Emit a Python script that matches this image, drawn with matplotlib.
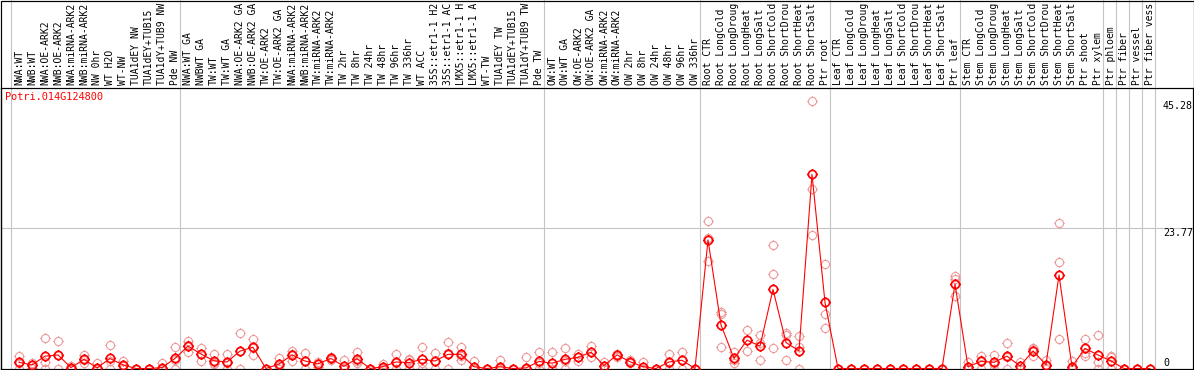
import matplotlib
matplotlib.use("Agg")
import matplotlib.pyplot as plt
import numpy as np
from matplotlib.path import Path
from matplotlib.patches import Rectangle

# ---------------- data ----------------
gene = "Potri.014G124800"

# sample labels as displayed (the chart shows at most 14 characters)
labels = [
    # NW group
    "NWA:WT", "NWB:WT", "NWA:OE-ARK2", "NWB:OE-ARK2", "NWA:miRNA-ARK2", "NWB:miRNA-ARK2",
    "NW 0hr", "WT H2O", "WT-NW", "TUA1dEY NW", "TUA1dEY+TUB15", "TUA1dY+TUB9 NW", "Pde NW",
    # TW group
    "NWA:WT GA", "NWBWT GA", "TW:WT", "TW:WT GA", "NWA:OE-ARK2 GA", "NWB:OE-ARK2 GA",
    "TW:OE-ARK2", "TW:OE-ARK2 GA", "NWA:miRNA-ARK2", "NWB:miRNA-ARK2", "TW:miRNA-ARK2",
    "TW:miRNA-ARK2", "TW 2hr", "TW 8hr", "TW 24hr", "TW 48hr", "TW 96hr", "TW 336hr",
    "WT ACC", "35S::etr1-1 H2", "35S::etr1-1 AC", "LMX5::etr1-1 H", "LMX5::etr1-1 A",
    "WT-TW", "TUA1dEY TW", "TUA1dEY+TUB15", "TUA1dY+TUB9 TW", "Pde TW",
    # OW group
    "OW:WT", "OW:WT GA", "OW:OE-ARK2", "OW:OE-ARK2 GA", "OW:miRNA-ARK2", "OW:miRNA-ARK2",
    "OW 2hr", "OW 8hr", "OW 24hr", "OW 48hr", "OW 96hr", "OW 336hr",
    # Root
    "Root CTR", "Root LongCold", "Root LongDroug", "Root LongHeat", "Root LongSalt",
    "Root ShortCold", "Root ShortDrou", "Root ShortHeat", "Root ShortSalt", "Ptr root",
    # Leaf
    "Leaf CTR", "Leaf LongCold", "Leaf LongDroug", "Leaf LongHeat", "Leaf LongSalt",
    "Leaf ShortCold", "Leaf ShortDrou", "Leaf ShortHeat", "Leaf ShortSalt", "Ptr leaf",
    # Stem
    "Stem CTR", "Stem LongCold", "Stem LongDroug", "Stem LongHeat", "Stem LongSalt",
    "Stem ShortCold", "Stem ShortDrou", "Stem ShortHeat", "Stem ShortSalt", "Ptr shoot",
    "Ptr xylem",
    "Ptr phloem", "Ptr fiber", "Ptr vessel", "Ptr fiber vess",
]

# last sample index of each group (group separators)
group_ends = [-1, 12, 40, 52, 62, 72, 83, 84, 85, 86, 87]

means = [
    1.05, 0.6, 2.1, 2.3, 0.15, 1.55, 0.1, 1.7, 0.6, 0, 0, 0.15, 1.7,
    3.8, 2.45, 1.3, 1.1, 2.95, 3.6, 0, 0.75, 2.3, 1.27, 0.8, 1.7, 0.37, 1.67, 0, 0.3,
    1.1, 1.0, 1.55, 1.27, 2.4, 2.4, 0.3, 0, 0.3, 0, 0.1, 1.2,
    0.9, 1.55, 1.9, 2.75, 0.5, 2.3, 1.15, 0.3, 0, 1.1, 1.4, 0,
    21.8, 7.4, 1.7, 4.8, 3.8, 13.4, 4.4, 3.0, 32.9, 11.2,
    0, 0, 0, 0, 0, 0, 0, 0, 0, 14.3,
    0.3, 1.2, 1.05, 2.1, 0.42, 2.97, 0.65, 15.85, 0.3, 3.4, 2.3,
    1.27, 0, 0, 0,
]

rep_a = [
    2.1, 1.0, 5.2, 4.6, 0.5, 2.3, 0.9, 4.0, 1.3, 0, 0, 0.9, 3.6,
    4.6, 3.5, 2.4, 2.45, 6.0, 4.95, 0, 1.8, 3.0, 2.6, 1.1, 2.0, 1.45, 2.85, 0, 0.8,
    2.45, 1.6, 3.65, 2.6, 4.5, 3.65, 1.2, 0, 1.45, 0, 1.9, 2.75,
    2.75, 3.5, 2.4, 3.8, 1.1, 2.45, 1.45, 1.05, 0, 2.45, 2.75, 0,
    25.0, 9.6, 2.8, 6.6, 5.7, 20.9, 6.1, 5.5, 45.28, 17.7,
    0, 0, 0, 0, 0, 0, 0, 0, 0, 15.6,
    1.15, 2.1, 2.35, 4.3, 1.1, 3.4, 1.45, 24.6, 1.27, 4.95, 5.7,
    2.2, 0, 0, 0,
]

rep_b = [
    1.0, 0.6, 1.05, 2.3, 0, 1.5, 0, 1.2, 0.5, 0, 0, 0, 1.5,
    4.0, 2.5, 0.9, 0.9, 2.9, 3.5, 0, 0.5, 2.5, 1.2, 0.8, 1.6, 0, 1.3, 0, 0.1,
    0.85, 1.45, 1.0, 1.2, 2.7, 2.1, 0, 0, 0, 0, 0, 1.0,
    0, 1.2, 1.9, 2.75, 0.4, 2.3, 1.1, 0, 0, 0.9, 1.4, 0,
    22.2, 9.2, 1.5, 4.8, 4.4, 16.0, 5.6, 3.7, 30.4, 9.2,
    0, 0, 0, 0, 0, 0, 0, 0, 0, 15.2,
    0, 1.5, 0.8, 2.0, 0, 3.36, 0.5, 18.05, 0, 2.7, 1.05,
    1.9, 0, 0, 0,
]

rep_c = [
    0, 0.1, 0, 0, 0, 0.9, 0, 0, 0, 0, 0, 0, 0,
    2.85, 1.3, 0.7, 0, 0, 2.3, 0, 0, 1.3, 0, 0.3, 1.5, 0, 0.9, 0, 0,
    0, 0, 0, 0, 0, 1.45, 0, 0, 0, 0, 0, 0,
    0, 0, 1.3, 1.9, 0, 2.0, 0.9, 0, 0, 0, 0, 0,
    18.2, 3.65, 0.9, 2.9, 1.45, 3.4, 1.45, 0, 22.6, 6.9,
    0, 0, 0, 0, 0, 0, 0, 0, 0, 12.3,
    0, 0, 0, 0, 0, 2.1, 0, 4.95, 0, 2.2, 0,
    0, 0, 0, 0,
]

ytick_values = [0, 23.77, 45.28]

# ---------------- figure ----------------
W, H = 1194, 370
DPI = 100
fig = plt.figure(figsize=(W / DPI, H / DPI), dpi=DPI)
fig.patch.set_facecolor("white")

PX = 0.72  # 1 pixel in points
font = "DejaVu Sans Mono"
fs = 7.0

n = len(labels)
x = np.arange(n)

# axes geometry in pixels
ax_left, ax_right = 1, 1193
ax_top, ax_bot = 88, 369
xmin = (ax_left - 19) / 13.0
xmax = (ax_right - 19) / 13.0
ppu = 5.9
ymin = (368.5 - ax_bot) / ppu
ymax = (368.5 - ax_top) / ppu

ax = fig.add_axes([ax_left / W, 1 - ax_bot / H, (ax_right - ax_left) / W, (ax_bot - ax_top) / H])
ax.set_xlim(xmin, xmax)
ax.set_ylim(ymin, ymax)
ax.set_xticks([])
ax.set_yticks([])
for s in ax.spines.values():
    s.set_color("black")
    s.set_linewidth(1.2 * PX)

# label axes on top
lax = fig.add_axes([ax_left / W, 1 - ax_top / H, (ax_right - ax_left) / W, ax_top / H])
lax.set_xlim(xmin, xmax)
lax.set_ylim(0, ax_top)
lax.axis("off")

# marker: circle with four small outward ticks
circ = Path.unit_circle()
t = 1.3
ticks = Path([(0, 1), (0, t), (0, -1), (0, -t), (1, 0), (t, 0), (-1, 0), (-t, 0)],
             [Path.MOVETO, Path.LINETO] * 4)
mk = Path.make_compound_path(circ, ticks)
msize = 7.6

grid_c = "#c4c4c4"
for g in group_ends:
    xv = g + 0.38
    ax.axvline(xv, color=grid_c, lw=1.1 * PX, zorder=0)
    lax.axvline(xv, color=grid_c, lw=1.1 * PX, zorder=0)
ax.axhline(23.77, color=grid_c, lw=1.1 * PX, zorder=0)

rep_color = "#ee9a9a"
for reps in (rep_a, rep_b, rep_c):
    ax.plot(x, reps, linestyle="none", marker=mk, markersize=msize, snap=False,
            markerfacecolor="none", markeredgecolor=rep_color, markeredgewidth=1.1 * PX, zorder=2)

ax.plot(x, means, color="#ff0000", lw=1.1 * PX, zorder=3)
ax.plot(x, means, linestyle="none", marker=mk, markersize=msize, snap=False,
        markerfacecolor="none", markeredgecolor="#ff0000", markeredgewidth=1.7 * PX, zorder=3)

# right-side value labels
tx = (1163 - 19) / 13.0
for v in ytick_values:
    txt = "0" if v == 0 else f"{v:.2f}"
    ax.text(tx, v, txt, ha="left", va="bottom" if v == 0 else "top",
            fontsize=7.2, family=font, color="black", zorder=4)

# gene title
ax.text(4 / (ax_right - ax_left), 1 - 4 / (ax_bot - ax_top), gene, transform=ax.transAxes,
        ha="left", va="top", fontsize=7.4, family=font, color="#ff0000")

# sample labels
for i, lab in enumerate(labels):
    lax.text(i, ax_top - 85, lab, rotation=90, ha="center", va="bottom",
             fontsize=fs, family=font, color="black")

# figure border
fig.add_artist(Rectangle((0.5 / W, 0.5 / H), (W - 1) / W, (H - 1) / H, transform=fig.transFigure,
                         fill=False, edgecolor="black", lw=1.2 * PX))

fig.savefig("out.png", dpi=DPI)
